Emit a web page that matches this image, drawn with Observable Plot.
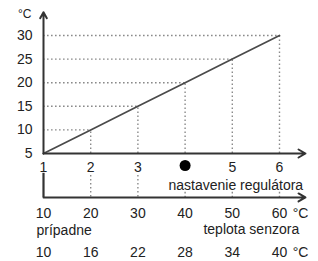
<!DOCTYPE html>
<html><head><meta charset="utf-8">
<script src="https://cdn.jsdelivr.net/npm/d3@7"></script>
<script src="https://cdn.jsdelivr.net/npm/@observablehq/plot@0.6"></script>
<style>html,body{margin:0;padding:0;background:#fff;}</style>
</head><body><div id="chart"></div>
<script>
// data
const settings = [1, 2, 3, 4, 5, 6];           // nastavenie regulátora
const temps = [5, 10, 15, 20, 25, 30];         // °C
const sensorTemps = [10, 20, 30, 40, 50, 60];  // teplota senzora
const altTemps = [10, 16, 22, 28, 34, 40];     // prípadne
const markedSetting = 4;

const rows = settings.map((s, i) => ({s, t: temps[i], a: sensorTemps[i], b: altTemps[i]}));

// layout constants (in scale units)
const xEnd = 6.55, yTop = 34.9, yLow = -4.32, yBandTop = 0.35, yLeftSeg = 0.8;
const font = "Liberation Sans, Arial, sans-serif";
const dotStyle = {stroke: "#8a8a8a", strokeWidth: 1.4, strokeDasharray: "1.6,2.4"};

const chart = Plot.plot({
  width: 318, height: 261,
  marginTop: 0, marginBottom: 0, marginLeft: 0, marginRight: 0,
  x: {domain: [1, 6], range: [43, 279], axis: null},
  y: {domain: [5, 30], range: [153, 35], axis: null},
  style: {fontFamily: font, fontSize: "14px", color: "#222", background: "#fff"},
  marks: [
    // horizontal dotted guides
    Plot.ruleY(rows.slice(1), {y: "t", x1: d => settings[0], x2: "s", ...dotStyle}),
    // vertical dotted guides
    Plot.ruleX(rows.slice(1), {x: "s", y1: d => temps[0], y2: "t", ...dotStyle}),
    // band verticals between axes
    Plot.ruleX(rows.filter(d => d.s === 2 || d.s === 3), {x: "s", y1: () => yBandTop, y2: () => yLow, ...dotStyle}),
    Plot.ruleX(rows.filter(d => d.s >= 4), {x: "s", y1: () => yLow + 1.1, y2: () => yLow, ...dotStyle}),
    // diagonal line
    Plot.line(rows, {x: "s", y: "t", stroke: "#4a4a4a", strokeWidth: 1.7}),
    // axes
    Plot.arrow([0], {x1: () => 1, y1: () => 5, x2: () => 1, y2: () => yTop, stroke: "#333", strokeWidth: 2, headLength: 5}),
    Plot.arrow([0], {x1: () => 1, y1: () => 5, x2: () => xEnd, y2: () => 5, stroke: "#333", strokeWidth: 2, headLength: 6}),
    Plot.arrow([0], {x1: () => 1, y1: () => yLow, x2: () => xEnd, y2: () => yLow, stroke: "#333", strokeWidth: 2, headLength: 6}),
    Plot.ruleX([1], {y1: () => yLow, y2: () => yLeftSeg, stroke: "#333", strokeWidth: 2.2}),
    // y tick labels
    Plot.text(temps, {x: () => 1, y: d => d, text: d => String(d), dx: -11, textAnchor: "end", fill: "#222"}),
    Plot.text(["°C"], {x: () => 1, y: () => yTop, dx: -12, dy: 2, textAnchor: "end", fill: "#222", fontSize: 12}),
    // setting labels
    Plot.text(settings.filter(s => s !== markedSetting), {x: d => d, y: () => 5, dy: 14, text: d => String(d), fill: "#222"}),
    Plot.dot([markedSetting], {x: d => d, y: () => 5, dy: 12, r: 5.5, fill: "#000", stroke: "none"}),
    Plot.text(["nastavenie regulátora"], {x: () => 5, y: () => 5, dx: 3.5, dy: 32, fill: "#222"}),
    // sensor temperatures
    Plot.text(rows, {x: "s", y: () => 5, dy: 60, text: d => String(d.a), fill: "#222"}),
    Plot.text(["°C"], {x: () => 6, y: () => 5, dx: 21, dy: 60, fill: "#222"}),
    Plot.text(["prípadne"], {x: () => 1, y: () => 5, dx: -7, dy: 77, textAnchor: "start", fill: "#222"}),
    Plot.text(["teplota senzora"], {x: () => 5, y: () => 5, dx: 19, dy: 76, fill: "#222"}),
    Plot.text(rows, {x: "s", y: () => 5, dy: 99.5, text: d => String(d.b), fill: "#222"}),
    Plot.text(["°C"], {x: () => 6, y: () => 5, dx: 21, dy: 99.5, fill: "#222"})
  ]
});
document.getElementById("chart").append(chart);
</script>
</body></html>
